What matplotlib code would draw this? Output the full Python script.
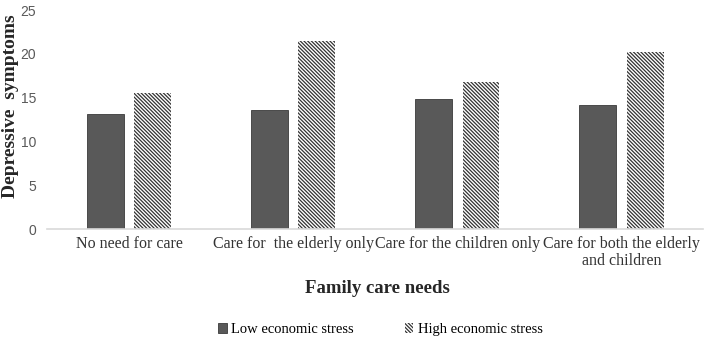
import matplotlib.pyplot as plt
import numpy as np

# Values
categories = ['No need for care', 'Care for  the elderly only',
              'Care for the children only', 'Care for both the elderly\nand children']
low_stress = [13.1, 13.6, 14.8, 14.2]
high_stress = [15.5, 21.5, 16.8, 20.2]
yticks = [0, 5, 10, 15, 20, 25]

plt.rcParams['hatch.linewidth'] = 0.9


def do_plot():
    fig = plt.figure(figsize=(7.08, 3.47), dpi=100)
    ax = fig.add_axes([0.0664, 0.340, 0.927, 0.631])
    x = np.arange(len(categories))
    w = 0.225
    ax.bar(x - 0.145, low_stress, w, color='#595959', edgecolor='#3a3a3a',
           linewidth=0.6, label='Low economic stress')
    ax.bar(x + 0.145, high_stress, w, color='white', edgecolor='#333333',
           linewidth=0, hatch='\\' * 9, label='High economic stress')
    ax.set_xlim(-0.5, 3.5)
    ax.set_ylim(0, 25)
    ax.set_yticks(yticks)
    ax.set_xticks(x)
    ax.set_xticklabels(categories, family='Liberation Serif', fontsize=11.5,
                       color='#333333', linespacing=1.1)
    for lab in ax.get_yticklabels():
        lab.set_family('Liberation Sans')
        lab.set_fontsize(10)
        lab.set_color('#595959')
    ax.tick_params(axis='both', length=0)
    ax.tick_params(axis='y', pad=8)
    ax.tick_params(axis='x', pad=5)
    for s in ['top', 'right', 'left']:
        ax.spines[s].set_visible(False)
    ax.spines['bottom'].set_color('#d9d9d9')
    ax.spines['bottom'].set_linewidth(1.2)
    ax.set_ylabel('Depressive  symptoms', family='Liberation Serif',
                  fontsize=14, fontweight='bold', color='#262626', labelpad=0)
    ax.yaxis.set_label_coords(-0.043, 0.56)
    fig.text(0.533, 0.17, 'Family care needs', ha='center', va='center',
             family='Liberation Serif', fontsize=13.5, fontweight='bold',
             color='#262626')
    fig.legend(loc='center', bbox_to_anchor=(0.537, 0.05), ncol=2,
               frameon=False, handlelength=0.6, handleheight=0.6,
               handletextpad=0.3, columnspacing=3.5,
               prop={'family': 'Liberation Serif', 'size': 10.5})
    plt.savefig('out.png', dpi=100)


if __name__ == '__main__':
    do_plot()
